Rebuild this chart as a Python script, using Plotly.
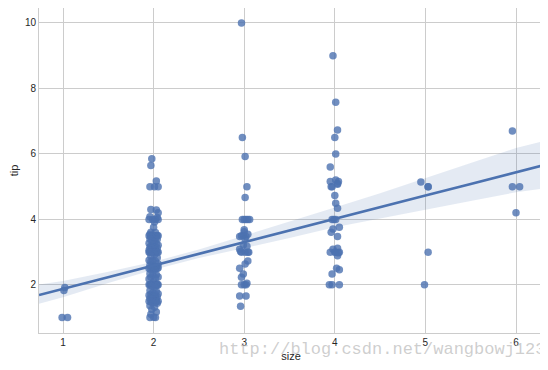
import plotly.graph_objects as go

# ---- data ----
size1_x = [0.99, 1.05, 1.01, 1.02]
size1_tip = [1.00, 1.00, 1.83, 1.92]

size2_x = [
    1.98, 1.97, 1.96, 2.01, 2.05, 2.03,
    1.97, 2.03, 2.05, 1.96, 2.04, 1.95, 1.99, 2.02, 2.05, 2.01,
    2.00, 1.97, 2.02, 1.96, 2.04, 1.95, 1.99, 2.01, 2.03, 2.05,
    1.97, 2.02, 1.96, 2.04, 1.98, 2.01, 1.95, 2.03, 1.99, 2.05,
    1.97, 2.02, 1.96, 2.00, 2.04, 1.98, 2.01, 1.95, 2.03, 1.96,
    1.98, 2.00, 2.02, 2.04, 2.05, 1.95, 2.01, 1.97, 2.04, 1.95,
    1.99, 2.02, 1.97, 2.05, 1.96, 2.01, 2.03, 1.98, 2.05, 1.95,
    1.99, 2.02, 2.04, 1.97, 2.01, 1.96, 2.03, 1.99, 2.05, 1.97,
    2.02, 1.95, 2.00, 2.04, 1.97, 2.02, 1.95, 1.97, 1.99, 2.00,
    2.02, 2.03, 2.05, 1.96, 2.04, 1.98, 2.01, 1.96, 2.03, 1.99,
    2.05, 1.97, 2.02, 1.95, 2.00, 2.04, 1.98, 2.01, 1.96, 2.03,
    1.99, 1.95, 1.98, 2.01, 2.03, 2.05, 1.97, 2.02, 1.99, 2.04,
    1.96, 2.01, 1.98, 2.03, 1.97, 2.00, 1.96, 2.02,
]
size2_tip = [
    5.85, 5.65, 5.00, 5.00, 5.00, 5.17,
    4.30, 4.29, 4.20, 4.08, 4.06, 4.00, 4.00, 4.00, 4.00, 3.92,
    3.76, 3.61, 3.60, 3.55, 3.51, 3.50, 3.50, 3.50, 3.50, 3.50,
    3.48, 3.41, 3.40, 3.39, 3.35, 3.31, 3.27, 3.25, 3.23, 3.21,
    3.18, 3.16, 3.15, 3.14, 3.12, 3.11, 3.08, 3.06, 3.02, 3.00,
    3.00, 3.00, 3.00, 3.00, 3.00, 3.00, 2.92, 2.88, 2.83, 2.75,
    2.74, 2.72, 2.71, 2.64, 2.60, 2.56, 2.55, 2.54, 2.52, 2.50,
    2.50, 2.50, 2.50, 2.47, 2.45, 2.34, 2.31, 2.30, 2.24, 2.23,
    2.20, 2.18, 2.09, 2.03, 2.02, 2.01, 2.00, 2.00, 2.00, 2.00,
    2.00, 2.00, 2.00, 2.00, 1.98, 1.96, 1.92, 1.83, 1.80, 1.76,
    1.73, 1.71, 1.70, 1.68, 1.66, 1.64, 1.63, 1.61, 1.58, 1.57,
    1.56, 1.50, 1.50, 1.50, 1.50, 1.50, 1.48, 1.47, 1.45, 1.44,
    1.36, 1.32, 1.25, 1.17, 1.10, 1.01, 1.00, 1.00,
]

size3_x = [2.97, 2.98, 3.01, 3.03, 3.01, 3.00, 3.02, 3.04, 3.06, 3.00,
           2.99, 3.02, 2.95, 3.01, 2.99, 2.95, 2.97, 3.04, 3.01, 3.04,
           3.01, 2.95, 2.99, 2.97, 3.03, 2.97, 3.00, 2.95, 3.02, 2.96,
           2.97, 3.03, 3.05, 2.96, 3.00, 3.02, 2.98, 3.04]
size3_tip = [10.0, 6.50, 5.92, 5.00, 4.67, 4.00, 4.00, 4.00, 4.00, 3.62,
             3.51, 3.48, 3.48, 3.41, 3.22, 3.09, 3.00, 3.00, 3.00, 2.73,
             2.64, 2.51, 2.33, 2.23, 2.05, 2.00, 2.00, 1.66, 1.66, 1.35,
             3.50, 3.18, 3.00, 3.02, 3.68, 2.00, 4.00, 3.55]

size4_x = [3.98, 4.01, 4.03, 4.00, 4.01, 3.95, 3.95, 4.01, 4.04, 3.97,
           4.03, 4.00, 4.01, 4.03, 3.97, 4.01, 3.98, 4.05, 3.96, 4.03,
           3.95, 3.98, 4.03, 4.01, 4.05, 4.03, 4.02, 4.05, 3.97, 3.94,
           3.97, 4.05, 3.96, 4.00, 4.03, 3.99, 4.04]
size4_tip = [9.00, 7.58, 6.73, 6.50, 6.00, 5.60, 5.16, 5.20, 5.16, 5.00,
             5.10, 4.73, 4.49, 4.34, 4.00, 4.00, 3.71, 3.76, 3.61, 3.48,
             3.00, 3.09, 3.12, 3.00, 3.00, 2.89, 2.51, 2.46, 2.33, 2.00,
             2.00, 2.00, 5.00, 3.00, 5.07, 4.00, 2.98]

size5_x = [4.95, 5.03, 5.03, 5.03, 4.99]
size5_tip = [5.14, 5.00, 5.00, 3.00, 2.00]

size6_x = [5.96, 5.96, 6.04, 6.00]
size6_tip = [6.70, 5.00, 5.00, 4.20]

# regression fit and confidence band
fit_x = [0.735, 1.0, 1.5, 2.0, 2.5, 3.0, 3.5, 4.0, 4.5, 5.0, 5.5, 6.0, 6.298]
fit_y = [1.69, 1.88, 2.24, 2.59, 2.95, 3.30, 3.66, 4.01, 4.37, 4.73, 5.08, 5.44, 5.65]
ci_upper = [2.01, 2.12, 2.40, 2.71, 3.08, 3.50, 3.92, 4.36, 4.80, 5.25, 5.72, 6.18, 6.39]
ci_lower = [1.42, 1.62, 2.06, 2.46, 2.82, 3.13, 3.43, 3.76, 4.03, 4.29, 4.56, 4.83, 4.94]

x_ticks = [1, 2, 3, 4, 5, 6]
y_ticks = [2, 4, 6, 8, 10]

all_x = size1_x + size2_x + size3_x + size4_x + size5_x + size6_x
all_tip = size1_tip + size2_tip + size3_tip + size4_tip + size5_tip + size6_tip

BLUE = "#4C72B0"
GRID = "#cccccc"

fig = go.Figure()
fig.add_trace(go.Scatter(
    x=all_x, y=all_tip, mode="markers",
    marker=dict(size=7.5, color=BLUE, opacity=0.8, line=dict(width=0)),
    hoverinfo="x+y", showlegend=False))
fig.add_trace(go.Scatter(
    x=fit_x + fit_x[::-1], y=ci_upper + ci_lower[::-1],
    fill="toself", fillcolor="rgba(76,114,176,0.15)",
    line=dict(width=0), mode="lines", hoverinfo="skip", showlegend=False))
fig.add_trace(go.Scatter(
    x=fit_x, y=fit_y, mode="lines",
    line=dict(color=BLUE, width=2.7), showlegend=False))

axis_common = dict(
    showgrid=True, gridcolor=GRID, gridwidth=1,
    showline=True, linecolor=GRID, linewidth=1, mirror=True,
    zeroline=False, ticks="",
    tickfont=dict(family="Liberation Sans, Arial, sans-serif", size=10, color="#262626"),
)

# the page body adds an 8px margin, so the figure is 8px smaller and shifted
fig.update_layout(
    width=540, height=362,
    margin=dict(l=31, r=5, t=0, b=37, autoexpand=False),
    paper_bgcolor="white", plot_bgcolor="white",
    font=dict(family="Liberation Sans, Arial, sans-serif", color="#262626"),
    xaxis=dict(range=[0.735, 6.298], tickvals=x_ticks,
               title=dict(text="size", font=dict(size=11), standoff=5), **axis_common),
    yaxis=dict(range=[0.53, 10.457], tickvals=y_ticks,
               title=dict(text="tip", font=dict(size=11), standoff=8), **axis_common),
    annotations=[dict(
        text="http://blog.csdn.net/wangbowj123",
        xref="paper", yref="paper", x=0.353, y=-0.052,
        xanchor="left", yanchor="middle", showarrow=False,
        font=dict(family="Liberation Mono, DejaVu Sans Mono, monospace", size=17,
                  color="rgba(185,185,185,0.7)"))],
)

fig.write_html("out.html")
